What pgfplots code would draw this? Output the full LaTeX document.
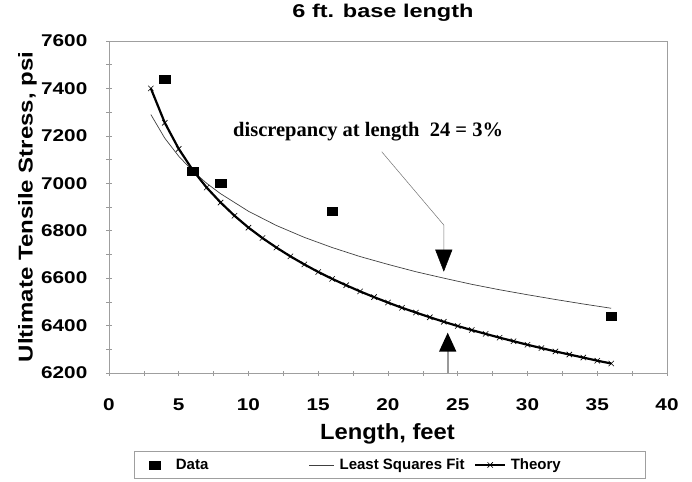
\documentclass[border=0pt]{standalone}
\usepackage{pgfplots}
\pgfplotsset{compat=1.18}
\usetikzlibrary{arrows.meta}
\usepackage{fontspec}
\setmainfont{Liberation Sans}
\newfontfamily\fA[FakeStretch=1.22]{Liberation Sans}
\newfontfamily\fT[FakeStretch=1.27]{Liberation Sans}
\newfontfamily\fX[FakeStretch=1.08]{Liberation Sans}
\newfontfamily\fY[FakeStretch=1.2]{Liberation Sans}
\newfontfamily\fL{Liberation Sans}
\newfontfamily\fS{Liberation Serif}
\pgfplotsset{
  dataleg/.style={legend image code/.code={\path (0pt,0pt) (17pt,0pt); \draw[##1] plot coordinates {(9pt,0pt)};}},
  lsfleg/.style={legend image code/.code={\draw[##1] (0pt,0pt) -- (25pt,0pt);}},
  thleg/.style={legend image code/.code={\draw[##1, line width=1.2pt] (0pt,0pt) -- (30pt,0pt); \draw[##1, only marks] plot coordinates {(15pt,0pt)};}},
}
\begin{document}
\begin{tikzpicture}
\begin{axis}[
  at={(0pt,0pt)}, anchor=south west,
  scale only axis, width=558pt, height=332pt,
  xmin=0, xmax=40, ymin=6200, ymax=7600,
  xtick={0,5,...,40}, ytick={6200,6400,...,7600},
  minor x tick num=1, minor y tick num=1,
  xtick pos=bottom, ytick pos=left,
  tick align=center, major tick length=5pt, minor tick length=5pt,
  every tick/.style={gray!80, line width=0.6pt},
  axis line style={gray!75, line width=0.8pt},
  /pgf/number format/assume math mode=true,
  /pgf/number format/1000 sep={},
  ticklabel style={font=\fA\bfseries\fontsize{17}{17}\selectfont, inner sep=0pt},
  xticklabel style={anchor=base, yshift=-35.3pt},
  yticklabel style={anchor=east, xshift=-19pt},
  title={6 ft. base length},
  title style={at={(axis description cs:0.491,1.0542)}, anchor=base, inner sep=0pt, font=\fT\bfseries\fontsize{18.5}{18.5}\selectfont},
  xlabel={Length, feet},
  xlabel style={at={(axis description cs:0.4991,-0.1988)}, anchor=base, inner sep=0pt, font=\fX\bfseries\fontsize{22}{22}\selectfont},
  ylabel={Ultimate Tensile Stress, psi},
  ylabel style={at={(axis description cs:-0.146,0.5)}, anchor=center, inner sep=0pt, font=\fY\bfseries\fontsize{20}{20}\selectfont},
  legend columns=3,
  legend style={at={(axis description cs:0.0448,-0.2349)}, anchor=north west,
    draw=gray!75, line width=0.6pt, inner xsep=11pt, inner ysep=7.5pt,
    font=\fL\bfseries\fontsize{15}{15}\selectfont,
    nodes={inner sep=0pt},
    /tikz/every even column/.append style={column sep=0pt},
    /tikz/every odd column/.append style={column sep=0pt}},
  legend cell align=left,
]
\addplot[only marks, mark=square*, mark size=4pt, mark options={xscale=1.35, fill=black, draw=black}, dataleg]
  coordinates {(4,7438) (6,7053) (8,7000) (16,6884) (36,6441)};
\addlegendentry{\makebox[146pt][l]{\hspace{13pt}Data}}
\addplot[black!75, line width=0.7pt, no marks, lsfleg]
  coordinates {(3,7290) (4,7190) (5,7114) (6,7052) (7,7000) (8,6956) (10,6882) (12,6822)
   (14,6772) (16,6729) (18,6691) (20,6658) (22,6627) (24,6600) (26,6574) (28,6551)
   (30,6530) (32,6510) (34,6491) (36,6473)};
\addlegendentry{\makebox[140pt][l]{\hspace{5pt}Least Squares Fit}}
\addplot[black, line width=2.2pt, mark=x, mark size=3.8pt, mark options={line width=0.6pt, black}, thleg]
  coordinates {(3,7400) (4,7255) (5,7145) (6,7056) (7,6982) (8,6919) (9,6863) (10,6813)
   (11,6769) (12,6729) (13,6692) (14,6658) (15,6626) (16,6597) (17,6570) (18,6544)
   (19,6520) (20,6497) (21,6475) (22,6455) (23,6435) (24,6416) (25,6398) (26,6381)
   (27,6365) (28,6349) (29,6334) (30,6319) (31,6305) (32,6291) (33,6278) (34,6265)
   (35,6252) (36,6240)};
\addlegendentry{\makebox[128pt][l]{\hspace{5pt}Theory}}
\draw[black!55, line width=0.5pt, -{Triangle[width=17pt,length=22pt,color=black]}]
  (axis cs:19.55,7133) -- (axis cs:24,6824) -- (axis cs:24,6627);
\draw[black!40, line width=1.8pt, -{Triangle[width=17pt,length=19pt,color=black]}]
  (axis cs:24.28,6200) -- (axis cs:24.28,6370);
\node[anchor=base west, inner sep=0pt, font=\fS\bfseries\fontsize{20.5}{20.5}\selectfont]
  at (axis cs:8.89,7196) {discrepancy at length\ \ 24 = 3\%};
\end{axis}
\pgfresetboundingbox
\useasboundingbox (-109pt,-108pt) rectangle (583pt,373pt);
\end{tikzpicture}
\end{document}
